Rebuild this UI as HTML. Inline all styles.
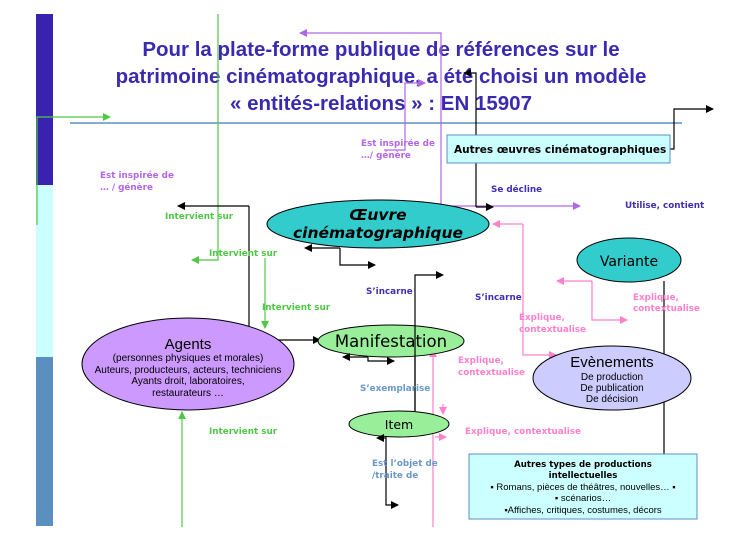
<!DOCTYPE html>
<html><head><meta charset="utf-8"><style>
html,body{margin:0;padding:0;background:#fff;}
svg{display:block;}
text{font-family:"DejaVu Sans","Liberation Sans",sans-serif;}
.t{font-family:"Liberation Sans",sans-serif;font-weight:bold;font-size:20.5px;fill:#3a2ab0;}
.l{font-size:8.8px;font-weight:bold;}
.n{font-family:"Liberation Sans",sans-serif;}
.g{fill:#4fc846;}.p{fill:#b266e6;}.b{fill:#3f2fb5;}.k{fill:#ff80cc;}.s{fill:#6a98c8;}
</style></head><body>
<svg width="754" height="544" viewBox="0 0 754 544" xmlns="http://www.w3.org/2000/svg">
<defs>
<marker id="ak" markerWidth="8" markerHeight="8" refX="7" refY="4" orient="auto" markerUnits="userSpaceOnUse"><path d="M0,0L8,4L0,8z" fill="#000"/></marker>
<marker id="ag" markerWidth="8" markerHeight="8" refX="7" refY="4" orient="auto" markerUnits="userSpaceOnUse"><path d="M0,0L8,4L0,8z" fill="#4fc846"/></marker>
<marker id="ap" markerWidth="8" markerHeight="8" refX="7" refY="4" orient="auto" markerUnits="userSpaceOnUse"><path d="M0,0L8,4L0,8z" fill="#b266e6"/></marker>
<marker id="ai" markerWidth="8" markerHeight="8" refX="7" refY="4" orient="auto" markerUnits="userSpaceOnUse"><path d="M0,0L8,4L0,8z" fill="#ff80cc"/></marker>
</defs>
<rect x="36" y="14" width="17" height="171" fill="#3a22b0"/>
<rect x="36" y="185" width="17" height="172" fill="#ccffff"/>
<rect x="36" y="357" width="17" height="169" fill="#5b8fc0"/>
<line x1="70" y1="123" x2="682" y2="123" stroke="#5b8fc0" stroke-width="1.5"/>
<text class="t" x="381" y="56" text-anchor="middle">Pour la plate-forme publique de références sur le</text>
<text class="t" x="381" y="83" text-anchor="middle">patrimoine cinématographique, a été choisi un modèle</text>
<text class="t" x="381" y="110" text-anchor="middle">« entités-relations » : EN 15907</text>
<!-- green -->
<polyline points="37,225 37,117 110,117" fill="none" stroke="#4fc846" stroke-width="1.2" marker-end="url(#ag)"/>
<polyline points="218,14 218,260 192,260" fill="none" stroke="#4fc846" stroke-width="1.2" marker-end="url(#ag)"/>
<line x1="265" y1="258" x2="265" y2="328" stroke="#4fc846" stroke-width="1.2" marker-end="url(#ag)"/>
<line x1="182" y1="527" x2="182" y2="412" stroke="#4fc846" stroke-width="1.2" marker-end="url(#ag)"/>
<!-- purple -->
<polyline points="441,206 441,33 300,33" fill="none" stroke="#b266e6" stroke-width="1.2" marker-end="url(#ap)"/>
<polyline points="441,206 580,206" fill="none" stroke="#b266e6" stroke-width="1.2" marker-end="url(#ap)"/>
<polyline points="384,150 405,150 405,83 425,83" fill="none" stroke="#b266e6" stroke-width="1.2" marker-end="url(#ap)"/>
<!-- black -->
<polyline points="476,207 476,73 464,73" fill="none" stroke="#000" stroke-width="1.2" marker-end="url(#ak)"/>
<polyline points="476,207 493,207" fill="none" stroke="#000" stroke-width="1.2" marker-end="url(#ak)"/>
<polyline points="633,149 674,149 674,109 713,109" fill="none" stroke="#000" stroke-width="1.2" marker-end="url(#ak)"/>
<polyline points="249,206 178,206" fill="none" stroke="#000" stroke-width="1.2" marker-end="url(#ak)"/>
<polyline points="249,206 249,340 320,340" fill="none" stroke="#000" stroke-width="1.2" marker-end="url(#ak)"/>
<polyline points="340,248 305,248" fill="none" stroke="#000" stroke-width="1.2" marker-end="url(#ak)"/>
<polyline points="340,248 340,265 375,265" fill="none" stroke="#000" stroke-width="1.2" marker-end="url(#ak)"/>
<polyline points="415,411 415,275 443,275" fill="none" stroke="#000" stroke-width="1.2" marker-end="url(#ak)"/>
<line x1="664" y1="281" x2="664" y2="454" stroke="#000" stroke-width="1.2"/>
<!-- pink -->
<polyline points="523,224 493,224" fill="none" stroke="#ff80cc" stroke-width="1.2" marker-end="url(#ai)"/>
<polyline points="523,224 523,355 556,355" fill="none" stroke="#ff80cc" stroke-width="1.2" marker-end="url(#ai)"/>
<polyline points="592,281 557,281" fill="none" stroke="#ff80cc" stroke-width="1.2" marker-end="url(#ai)"/>
<polyline points="592,281 592,320 627,320" fill="none" stroke="#ff80cc" stroke-width="1.2" marker-end="url(#ai)"/>
<line x1="433" y1="527" x2="433" y2="350" stroke="#ff80cc" stroke-width="1.2" marker-end="url(#ai)"/>
<line x1="443" y1="404" x2="443" y2="414" stroke="#ff80cc" stroke-width="1.2" marker-end="url(#ai)"/>
<polyline points="435,437 446,437" fill="none" stroke="#ff80cc" stroke-width="1.2" marker-end="url(#ai)"/>
<!-- boxes -->
<rect x="447" y="135" width="223" height="28" fill="#ccffff" stroke="#5b8fc0"/>
<text x="454" y="153" font-size="10.5" font-weight="bold">Autres œuvres cinématographiques</text>
<rect x="469" y="454" width="228" height="65" fill="#ccffff" stroke="#5b8fc0"/>
<text x="583" y="467" font-size="8.6" font-weight="bold" text-anchor="middle">Autres types de productions</text>
<text x="583" y="478" font-size="8.6" font-weight="bold" text-anchor="middle">intellectuelles</text>
<text class="n" x="583" y="490" font-size="9.5" text-anchor="middle">▪ Romans, pièces de théâtres, nouvelles… ▪</text>
<text class="n" x="583" y="501" font-size="9.5" text-anchor="middle">▪ scénarios…</text>
<text class="n" x="583" y="513" font-size="9.5" text-anchor="middle">▪Affiches, critiques, costumes, décors</text>
<!-- ellipses -->
<ellipse cx="378" cy="224" rx="111" ry="24" fill="#33cccc" stroke="#000" stroke-width="1"/>
<text x="378" y="220" font-size="15.5" font-weight="bold" font-style="italic" text-anchor="middle">Œuvre</text>
<text x="378" y="238" font-size="15.5" font-weight="bold" font-style="italic" text-anchor="middle">cinématographique</text>
<ellipse cx="629" cy="260" rx="52" ry="22" fill="#33cccc" stroke="#000"/>
<text x="629" y="266" font-size="14" text-anchor="middle">Variante</text>
<ellipse cx="391" cy="341" rx="73" ry="16" fill="#99ee99" stroke="#000"/>
<text x="391" y="347" font-size="16.5" text-anchor="middle">Manifestation</text>
<ellipse cx="188" cy="364" rx="106" ry="46" fill="#cc99ff" stroke="#000"/>
<text class="n" x="188" y="349" font-size="15" text-anchor="middle">Agents</text>
<text class="n" x="188" y="361" font-size="10" text-anchor="middle">(personnes physiques et morales)</text>
<text class="n" x="188" y="373" font-size="10" text-anchor="middle">Auteurs, producteurs, acteurs, techniciens</text>
<text class="n" x="188" y="384" font-size="10" text-anchor="middle">Ayants droit, laboratoires,</text>
<text class="n" x="188" y="396" font-size="10" text-anchor="middle">restaurateurs …</text>
<ellipse cx="612" cy="378" rx="79" ry="32" fill="#ccccff" stroke="#000"/>
<text class="n" x="612" y="367" font-size="15" text-anchor="middle">Evènements</text>
<text class="n" x="612" y="380" font-size="10" text-anchor="middle">De production</text>
<text class="n" x="612" y="391" font-size="10" text-anchor="middle">De publication</text>
<text class="n" x="612" y="402" font-size="10" text-anchor="middle">De décision</text>
<ellipse cx="399" cy="424" rx="50" ry="13" fill="#99ee99" stroke="#000"/>
<text x="399" y="429" font-size="12.5" text-anchor="middle">Item</text>
<line x1="415" y1="325" x2="415" y2="411" stroke="#000" stroke-width="1.2"/>
<polyline points="386,437 386,505 398,505" fill="none" stroke="#000" stroke-width="1.2" marker-end="url(#ak)"/>
<polyline points="386,438 377,438" fill="none" stroke="#000" stroke-width="1.2" marker-end="url(#ak)"/>
<polyline points="368,357 343,357" fill="none" stroke="#000" stroke-width="1.2" marker-end="url(#ak)"/>
<polyline points="368,357 368,361 394,361" fill="none" stroke="#000" stroke-width="1.2" marker-end="url(#ak)"/>
<!-- labels -->
<text class="l p" x="100" y="178">Est inspirée de</text>
<text class="l p" x="100" y="190">… / génère</text>
<text class="l p" x="361" y="146">Est inspirée de</text>
<text class="l p" x="361" y="158">…/ génère</text>
<text class="l b" x="491" y="192">Se décline</text>
<text class="l b" x="625" y="208">Utilise, contient</text>
<text class="l g" x="165" y="219">Intervient sur</text>
<text class="l g" x="209" y="256">Intervient sur</text>
<text class="l g" x="262" y="310">Intervient sur</text>
<text class="l g" x="209" y="434">Intervient sur</text>
<text class="l b" x="366" y="294">S’incarne</text>
<text class="l b" x="475" y="300">S’incarne</text>
<text class="l k" x="633" y="300">Explique,</text>
<text class="l k" x="633" y="311">contextualise</text>
<text class="l k" x="519" y="320">Explique,</text>
<text class="l k" x="519" y="332">contextualise</text>
<text class="l k" x="458" y="363">Explique,</text>
<text class="l k" x="458" y="375">contextualise</text>
<text class="l k" x="465" y="434">Explique, contextualise</text>
<text class="l s" x="360" y="391">S’exemplarise</text>
<text class="l s" x="372" y="466">Est l’objet de</text>
<text class="l s" x="372" y="478">/traite de</text>
</svg>
</body></html>
